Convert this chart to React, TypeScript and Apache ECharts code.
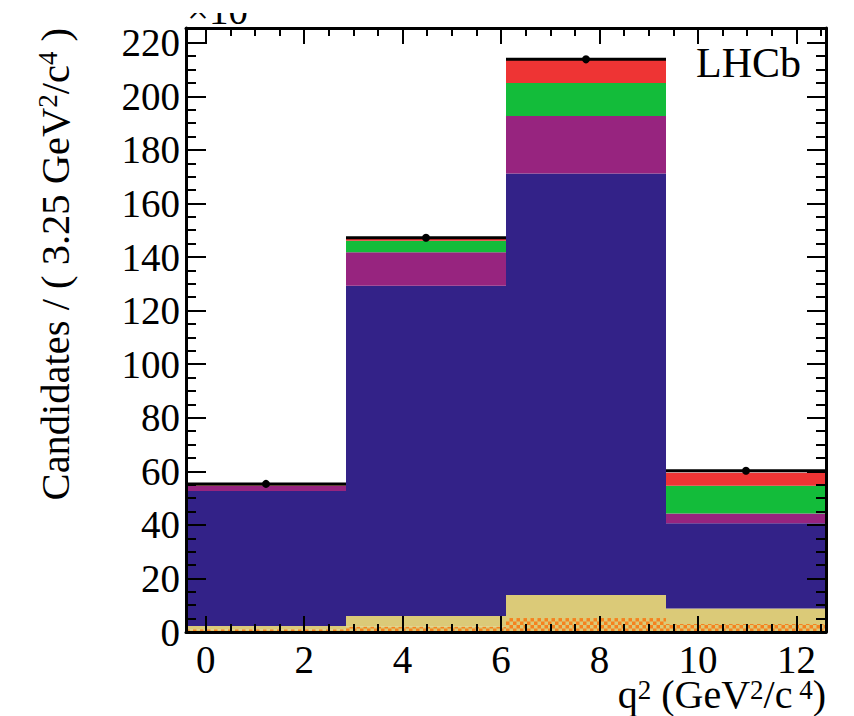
import React, { useEffect, useRef } from 'react';
import * as echarts from 'echarts';

// q^2 bin edges (GeV^2/c^4), 3.25 wide
const binEdges = [-0.4, 2.85, 6.1, 9.35, 12.6];
// stacked components (x10^3 candidates), bottom to top
const orangeHatch = [1.0, 2.0, 5.2, 3.0];
const khaki = [1.2, 4.0, 8.6, 5.8];
const navy = [50.4, 123.3, 157.4, 31.8];
const purple = [1.9, 12.5, 21.4, 3.6];
const green = [0.2, 4.3, 12.4, 10.4];
const red = [0.2, 0.7, 8.6, 4.9];
// data points
const dataValues = [55.3, 147.2, 213.8, 60.2];
// ticks
const xMajor = [0, 2, 4, 6, 8, 10, 12];
const xMinor = [0.5, 1, 1.5, 2.5, 3, 3.5, 4.5, 5, 5.5, 6.5, 7, 7.5, 8.5, 9, 9.5, 10.5, 11, 11.5, 12.5];
const yMajor = [0, 20, 40, 60, 80, 100, 120, 140, 160, 180, 200, 220];
const yMinor = [5, 10, 15, 25, 30, 35, 45, 50, 55, 65, 70, 75, 85, 90, 95, 105, 110, 115, 125, 130, 135, 145, 150, 155, 165, 170, 175, 185, 190, 195, 205, 210, 215];

const X_MIN = -0.4;
const X_MAX = 12.6;
const Y_MIN = 0;
const Y_MAX = 225.5;

const FONT = 'Liberation Serif';

const layers = [
  { name: 'hatch', values: orangeHatch, color: '#F5821F' },
  { name: 'khaki', values: khaki, color: '#DBCA78' },
  { name: 'navy', values: navy, color: '#332288' },
  { name: 'purple', values: purple, color: '#97247F' },
  { name: 'green', values: green, color: '#13BC3A' },
  { name: 'red', values: red, color: '#EE3434' },
];

export default function App() {
  const ref = useRef<HTMLDivElement>(null);
  useEffect(() => {
    if (!ref.current) return;
    const chart = echarts.init(ref.current, null, { renderer: 'svg' });

    const cum = binEdges.slice(0, -1).map(() => 0);
    const stackSeries: any[] = layers.map((layer, li) => {
      const data = layer.values.map((v, i) => {
        const lo = cum[i];
        const hi = cum[i] + v;
        cum[i] = hi;
        return [binEdges[i], binEdges[i + 1], lo, hi];
      });
      const isHatch = li === 0;
      return {
        type: 'custom',
        name: layer.name,
        z: 2 + li * 0.01,
        encode: { x: [0, 1], y: [2, 3] },
        data,
        renderItem: (params: any, api: any) => {
          const x0 = api.value(0), x1 = api.value(1), y0 = api.value(2), y1 = api.value(3);
          const p0 = api.coord([x0, y0]);
          const p1 = api.coord([x1, y1]);
          const rx = p0[0], ry = p1[1], rw = p1[0] - p0[0], rh = p0[1] - p1[1];
          if (!isHatch) {
            return { type: 'rect', shape: { x: rx, y: ry, width: rw, height: rh }, style: { fill: layer.color } };
          }
          const children: any[] = [
            { type: 'rect', shape: { x: rx, y: ry, width: rw, height: rh }, style: { fill: '#DBCA78' } },
          ];
          const s = 3.5;
          const nx = Math.ceil(rw / s), ny = Math.ceil(rh / s);
          for (let j = 0; j < ny; j++) {
            for (let k = 0; k < nx; k++) {
              if ((j + k) % 2 !== 0) continue;
              const sx = rx + k * s;
              const syb = p0[1] - j * s;
              const w = Math.min(s, rx + rw - sx);
              const top = Math.max(ry, syb - s);
              const h = syb - top;
              if (w <= 0 || h <= 0) continue;
              children.push({ type: 'rect', shape: { x: sx, y: top, width: w, height: h }, style: { fill: layer.color } });
            }
          }
          return { type: 'group', children };
        },
      };
    });

    const dataSeries = {
      type: 'custom',
      name: 'data',
      z: 5,
      encode: { x: [0, 1], y: 2 },
      data: dataValues.map((v, i) => [binEdges[i], binEdges[i + 1], v]),
      renderItem: (params: any, api: any) => {
        const x0 = api.value(0), x1 = api.value(1), y = api.value(2);
        const a = api.coord([x0, y]);
        const b = api.coord([x1, y]);
        return {
          type: 'group',
          children: [
            { type: 'line', shape: { x1: a[0], y1: a[1], x2: b[0], y2: b[1] }, style: { stroke: '#000', lineWidth: 3 } },
            { type: 'circle', shape: { cx: (a[0] + b[0]) / 2, cy: a[1], r: 4 }, style: { fill: '#000' } },
          ],
        };
      },
    };

    const mkX = (position: string, ticks: number[], len: number, showLine: boolean, showLabel: boolean) => ({
      type: 'value',
      position,
      min: X_MIN,
      max: X_MAX,
      z: 10,
      axisLine: { show: showLine, onZero: false, lineStyle: { color: '#000', width: 3 } },
      axisTick: { show: true, inside: true, length: len, customValues: ticks, lineStyle: { color: '#000', width: 2 } },
      axisLabel: showLabel
        ? { show: true, customValues: xMajor, fontFamily: FONT, fontSize: 39, lineHeight: 30, color: '#000', margin: 12 }
        : { show: false },
      splitLine: { show: false },
    });
    const mkY = (position: string, ticks: number[], len: number, showLine: boolean, showLabel: boolean) => ({
      type: 'value',
      position,
      min: Y_MIN,
      max: Y_MAX,
      z: 10,
      axisLine: { show: showLine, onZero: false, lineStyle: { color: '#000', width: 3 } },
      axisTick: { show: true, inside: true, length: len, customValues: ticks, lineStyle: { color: '#000', width: 2 } },
      axisLabel: showLabel
        ? { show: true, customValues: yMajor, fontFamily: FONT, fontSize: 39, color: '#000', margin: 6 }
        : { show: false },
      splitLine: { show: false },
    });

    chart.setOption({
      animation: false,
      backgroundColor: '#fff',
      textStyle: { fontFamily: FONT },
      grid: { left: 186, right: 28, top: 28, bottom: 84, containLabel: false },
      xAxis: [
        mkX('bottom', xMajor, 16, true, true),
        mkX('bottom', xMinor, 8, false, false),
        mkX('top', xMajor, 16, true, false),
        mkX('top', xMinor, 8, false, false),
      ],
      yAxis: [
        mkY('left', yMajor, 20, true, true),
        mkY('left', yMinor, 10, false, false),
        mkY('right', yMajor, 19, true, false),
        mkY('right', yMinor, 10, false, false),
      ],
      series: [...stackSeries, dataSeries],
      graphic: [
        {
          type: 'text',
          x: 187,
          y: 10,
          z: 20,
          style: { text: '×10', fontFamily: FONT, fontSize: 39, fill: '#000', align: 'left', verticalAlign: 'middle' },
        },
        {
          type: 'rect',
          z: 21,
          shape: { x: 180, y: 0, width: 120, height: 13 },
          style: { fill: '#fff' },
        },
        {
          type: 'text',
          x: 801,
          y: 63,
          z: 20,
          style: { text: 'LHCb', fontFamily: FONT, fontSize: 42, fill: '#000', align: 'right', verticalAlign: 'middle' },
        },
        {
          type: 'text',
          x: 826,
          y: 694,
          z: 20,
          style: {
            text: 'q{s|2} (GeV{s|2}/c{s| 4})',
            fontFamily: FONT,
            fontSize: 40,
            lineHeight: 36,
            fill: '#000',
            align: 'right',
            verticalAlign: 'middle',
            rich: { s: { fontFamily: FONT, fontSize: 27, lineHeight: 36, fill: '#000', verticalAlign: 'top' } },
          },
        },
        {
          type: 'text',
          x: 55,
          y: 28,
          rotation: Math.PI / 2,
          z: 20,
          style: {
            text: 'Candidates / ( 3.25 GeV{s|2}/c{s|4} )',
            fontFamily: FONT,
            fontSize: 40.5,
            fill: '#000',
            align: 'right',
            verticalAlign: 'middle',
            rich: { s: { fontFamily: FONT, fontSize: 27, fill: '#000', verticalAlign: 'top' } },
          },
        },
      ],
    });
    return () => chart.dispose();
  }, []);
  return <div ref={ref} style={{ position: 'fixed', left: 0, top: 0, width: 854, height: 716 }} />;
}
